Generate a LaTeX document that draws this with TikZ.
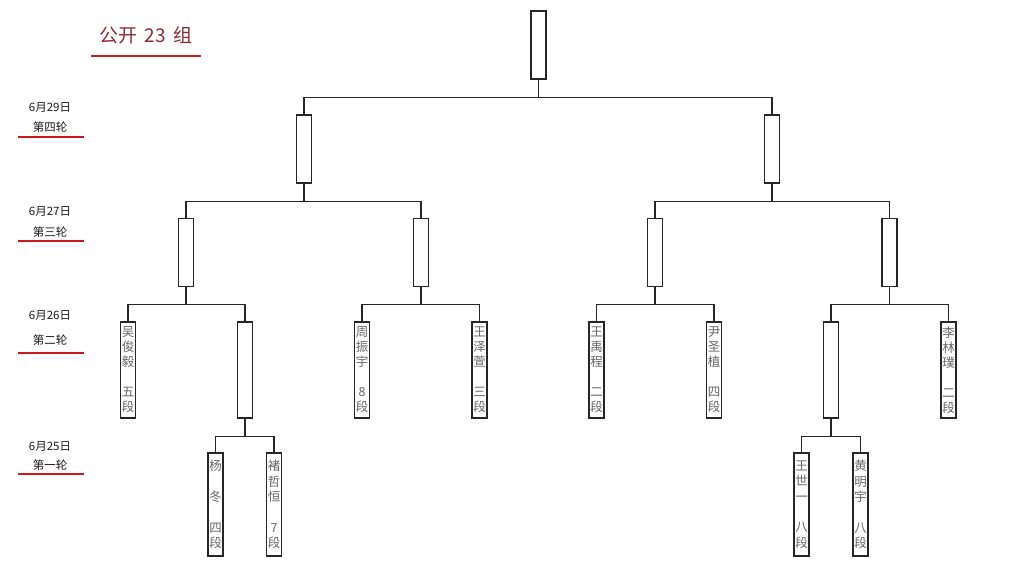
\documentclass[tikz,border=0pt]{standalone}
\usepackage{fontspec}
\newfontfamily\cjk{Noto Sans CJK SC}
\definecolor{titrecol}{RGB}{135,45,55}
\definecolor{rouge}{RGB}{205,25,30}
\tikzset{
    boite/.style={draw=black!85, line width=1.3pt, fill=white, minimum width=15pt,
        inner sep=0pt, align=center, text=black!60},
    partie/.style={boite, minimum height=68pt},
    joueur/.style={boite, minimum height=96pt, font=\cjk\fontsize{12.5}{15}\selectfont},
    joueurA/.style={boite, minimum height=103pt, font=\cjk\fontsize{12.5}{15.4}\selectfont},
    lien/.style={draw=black!85, line width=1.3pt},
    souligne/.style={draw=rouge, line width=2.4pt},
    date/.style={font=\cjk\fontsize{11.5}{14}\selectfont, text=black!90}
}
\begin{document}
\begin{tikzpicture}[x=1pt, y=-1pt]
    \useasboundingbox (0,0) rectangle (1024,563);
    % Titre et soulignement
    \node[font=\cjk\fontsize{19}{22}\selectfont, text=titrecol] (titre) at (146,35) {公开\hspace{0.4em}23\hspace{0.4em}组};
    \draw[souligne] (91,56) -- (201,56);
    % Dates et tours (colonne de gauche)
    \foreach \jour/\tour/\ya/\yb/\yc in {29/四/107/127/137, 27/三/211/232/241, 26/二/315/340/353, 25/一/446/465/474} {
        \node[date] (d\jour) at (50,\ya) {6月{\jour}日};
        \node[date] (t\jour) at (50,\yb) {第{\tour}轮};
        \draw[souligne] (18,\yc) -- (84,\yc);
    }
    % Parties (cases vides)
    \node[partie] (finale) at (538.5,45) {};
    \node[partie] (qg) at (304,149) {};
    \node[partie] (qd) at (772,149) {};
    \node[partie] (ta) at (186,252.5) {};
    \node[partie] (tb) at (421,252.5) {};
    \node[partie] (tc) at (655,252.5) {};
    \node[partie] (td) at (889.5,252.5) {};
    % Deuxieme tour
    \node[joueur] (wu) at (128,370) {吴\\俊\\毅\\　\\五\\段};
    \node[joueur] (sa) at (245,370) {};
    \node[joueur] (zhou) at (362,370) {周\\振\\宇\\　\\8\\段};
    \node[joueur] (wzx) at (479.5,370) {王\\泽\\萱\\　\\三\\段};
    \node[joueur] (wyc) at (596.5,370) {王\\禹\\程\\　\\二\\段};
    \node[joueur] (yin) at (714,370) {尹\\圣\\植\\　\\四\\段};
    \node[joueur] (sb) at (831,370) {};
    \node[joueur] (li) at (948.5,370) {李\\林\\璞\\　\\二\\段};
    % Premier tour
    \node[joueurA] (yang) at (215.5,504.5) {杨\\　\\冬\\　\\四\\段};
    \node[joueurA] (chu) at (274,504.5) {褚\\哲\\恒\\　\\7\\段};
    \node[joueurA] (wsy) at (801.5,504.5) {王\\世\\一\\　\\八\\段};
    \node[joueurA] (huang) at (860.5,504.5) {黄\\明\\宇\\　\\八\\段};
    % Liens de l'arbre
    \foreach \p/\c in {finale/qg, finale/qd, qg/ta, qg/tb, qd/tc, qd/td,
        ta/wu, ta/sa, tb/zhou, tb/wzx, tc/wyc, tc/yin, td/sb, td/li,
        sa/yang, sa/chu, sb/wsy, sb/huang} {
        \draw[lien] (\p.south) -- ++(0,17.5) -| (\c.north);}
\end{tikzpicture}
\end{document}
